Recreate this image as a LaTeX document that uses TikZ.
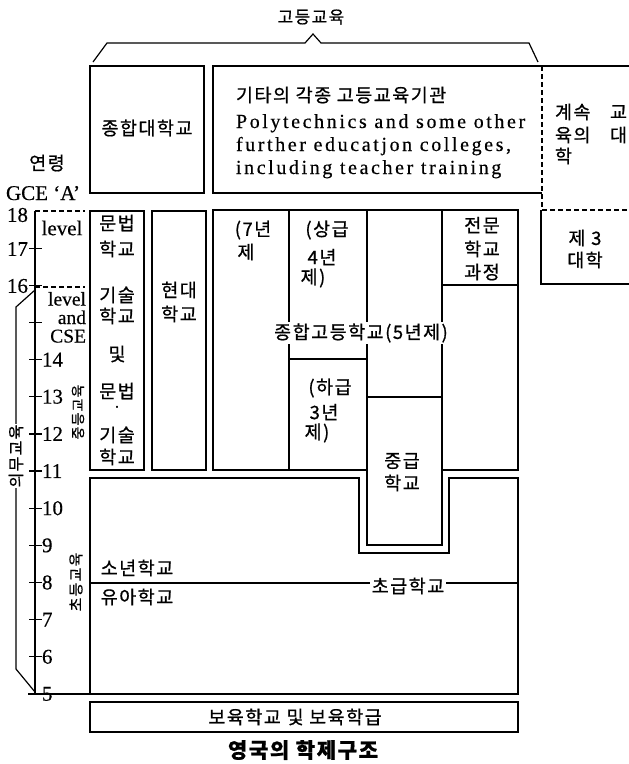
\documentclass[tikz,border=0pt]{standalone}
\usepackage{fontspec}
\setmainfont[FakeBold=0.4]{Liberation Serif}
\newfontfamily\kr[LetterSpace=8,FakeBold=0.7]{Noto Sans CJK KR}
\newfontfamily\ens[LetterSpace=13,FakeBold=0.4]{Liberation Serif}
\begin{document}
\begin{tikzpicture}[x=1pt,y=-1pt,line width=1.2pt,
  every node/.style={inner sep=0pt,outer sep=0pt},
  kt/.style={font=\kr\fontsize{18.5}{21}\selectfont},
  ksm/.style={font=\kr\fontsize{17}{19}\selectfont},
  et/.style={font=\ens\fontsize{20}{22}\selectfont},
  num/.style={font=\fontsize{21}{22}\selectfont},
  box/.style={draw,anchor=north west},
  vlab/.style={font=\kr\fontsize{14}{16}\selectfont,rotate=90,fill=white,inner sep=1pt},
  dashline/.style={dashed,dash pattern=on 5pt off 3pt}]
\useasboundingbox (0,0) rectangle (629,764);

% ---- top: higher education
\node[ksm] (hed) at (311,17) {고등교육};
\draw (93,62) -- (107,43) -- (305,43) -- (313,34) -- (321,43) -- (529,43) -- (538,62);

\node[box,minimum width=114pt,minimum height=127pt] (uni) at (90,66) {};
\node[kt] (unit) at (147,128) {종합대학교};

\draw (542,193) -- (213,193) -- (213,66) -- (629,66);
\draw[dashline] (542,66) -- (542,210);
\node[kt,anchor=west] (oth) at (236,95) {기타의 각종 고등교육기관};
\node[et,anchor=base west] (e1) at (236,128) {Polytechnics and some other};
\node[et,anchor=base west] (e2) at (236,151) {further educatjon colleges,};
\node[et,anchor=base west] (e3) at (236,174) {including teacher training};

\node[kt,anchor=west] (c1) at (555,112) {계속};
\node[kt,anchor=west] (c2) at (610,112) {교};
\node[kt,anchor=west] (c3) at (555,135) {육의};
\node[kt,anchor=west] (c4) at (610,135) {대};
\node[kt,anchor=west] (c5) at (555,156) {학};

\draw[dashline] (542,210) -- (629,210);
\draw (541,210) -- (541,284) -- (629,284);
\node[kt] (t1) at (585,238) {제 3};
\node[kt] (t2) at (585,260) {대학};

% ---- age axis
\node[kt] (age) at (47,163) {연령};
\node[num,anchor=base west] (gce) at (6,200) {GCE ‘A’};
\draw (35,211) -- (35,694);
\draw[dashline] (35,211) -- (85,211);
\draw[dashline] (35,287) -- (85,287);
\foreach \a in {6,...,17} {\draw (29,{211+(18-\a)*37.15}) -- (42,{211+(18-\a)*37.15});}
\draw (28,694) -- (90,694);
\node[num,anchor=east] (n18) at (28,215) {18};
\node[num,anchor=east] (n17) at (28,249) {17};
\node[num,anchor=east] (n16) at (28,286) {16};
\foreach \a in {5,...,14} {\node[num,anchor=west] (n\a) at (42,{211+(18-\a)*37.15}) {\a};}
\node[num] (lv1) at (62,228) {level};
\node[num,font=\fontsize{19.5}{18.5}\selectfont,align=right,anchor=north east] (lv2) at (86,292) {level\\and\\CSE};

\draw (35,290) -- (16,307) -- (16,669) -- (35,692);
\node[vlab,font=\kr\fontsize{16}{18}\selectfont] (comp) at (16,456) {의무교육};
\node[vlab] (sec) at (78,412) {중등교육};
\node[vlab,font=\kr\fontsize{15}{17}\selectfont] (pri) at (76,582) {초등교육};

% ---- secondary
\node[box,minimum width=54pt,minimum height=259pt] (gram) at (90,211) {};
\node[kt] (g1) at (117,223) {문법};
\node[kt] (g2) at (117,249) {학교};
\node[kt] (g3) at (117,295) {기술};
\node[kt] (g4) at (117,316) {학교};
\node[kt] (g5) at (117,354) {및};
\node[kt] (g6) at (117,391) {문법};
\node[font=\fontsize{16}{16}\selectfont] (g7) at (117,409) {·};
\node[kt] (g8) at (117,435) {기술};
\node[kt] (g9) at (117,457) {학교};

\node[box,minimum width=54pt,minimum height=259pt] (mod) at (152,211) {};
\node[kt] (m1) at (179,290) {현대};
\node[kt] (m2) at (179,314) {학교};

\draw (367,470) -- (213,470) -- (213,210) -- (518,210) -- (518,470) -- (442,470);
\draw (367,210) -- (367,545) -- (442,545) -- (442,210);
\draw (289,210) -- (289,470);
\draw (289,359) -- (367,359);
\draw (367,397) -- (442,397);
\draw (442,285) -- (518,285);

\node[kt] (s1) at (253,230) {(7년};
\node[kt] (s2) at (246,252) {제};
\node[kt] (u1) at (327,230) {(상급};
\node[kt] (u2) at (322,257) {4년};
\node[kt] (u3) at (313,278) {제)};
\node[kt,fill=white,inner sep=1pt] (cs) at (361,333) {종합고등학교(5년제)};
\node[kt] (l1) at (330,388) {(하급};
\node[kt] (l2) at (324,412) {3년};
\node[kt] (l3) at (317,433) {제)};
\node[kt] (p1) at (482,225) {전문};
\node[kt] (p2) at (482,249) {학교};
\node[kt] (p3) at (482,272) {과정};
\node[kt] (mi1) at (402,461) {중급};
\node[kt] (mi2) at (402,483) {학교};

% ---- primary
\draw (90,478) -- (359,478) -- (359,553) -- (449,553) -- (449,478) -- (518,478) -- (518,694) -- (90,694) -- cycle;
\draw (90,583) -- (518,583);
\node[kt] (j1) at (137,568) {소년학교};
\node[kt] (j2) at (137,597) {유아학교};
\node[kt,fill=white,inner sep=2pt] (pr) at (408,586) {초급학교};

\node[box,minimum width=428pt,minimum height=30pt] (nur) at (90,702) {};
\node[kt] (nurt) at (295,717) {보육학교 및 보육학급};

\node[font=\kr\bfseries\fontsize{21}{24}\selectfont] (cap) at (303,750) {영국의 학제구조};
\end{tikzpicture}
\end{document}
